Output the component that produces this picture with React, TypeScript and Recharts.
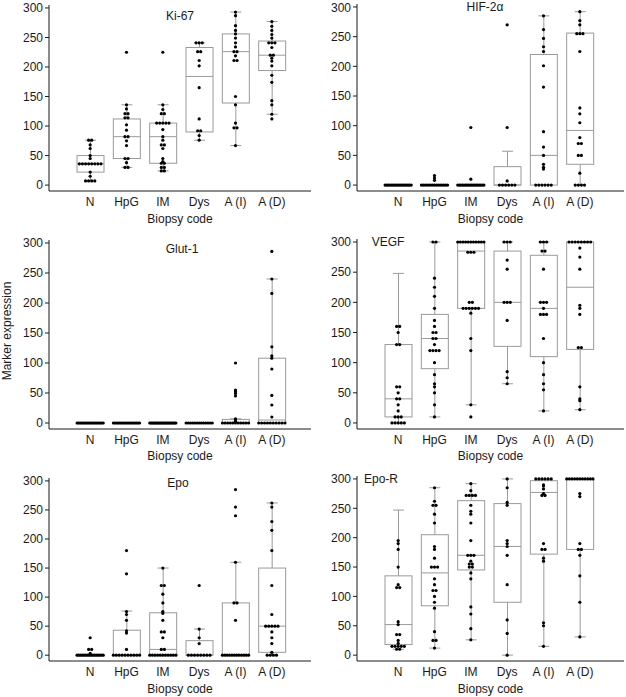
import { Bar, ComposedChart, Scatter, XAxis, YAxis } from "recharts";

const CATS = ["N", "HpG", "IM", "Dys", "A (I)", "A (D)"];
const Y_TICKS = [0, 50, 100, 150, 200, 250, 300];

// box stats per category: [low whisker, q1, median, q3, high whisker]
const ki67Box = [
  [7, 22, 36, 50, 76],
  [30, 45, 82, 112, 136],
  [24, 37, 82, 105, 136],
  [76, 90, 184, 233, 241],
  [67, 139, 226, 256, 293],
  [120, 194, 220, 244, 277],
];
const ki67Dots = [
  [76, 76, 68, 62, 50, 45, 36, 36, 36, 36, 36, 36, 36, 36, 22, 15, 7, 7, 7, 7],
  [225, 136, 129, 121, 121, 114, 114, 102, 93, 82, 82, 75, 67, 45, 45, 38, 30, 30],
  [225, 136, 128, 121, 121, 105, 105, 105, 105, 105, 94, 82, 76, 68, 68, 62, 45, 40, 37, 37, 30, 30, 24, 24],
  [241, 241, 241, 226, 226, 211, 202, 165, 112, 92, 92, 84, 76],
  [293, 287, 270, 262, 256, 249, 241, 234, 226, 226, 219, 211, 211, 150, 136, 105, 97, 97, 67],
  [277, 269, 262, 255, 249, 241, 241, 241, 233, 220, 220, 215, 210, 202, 186, 174, 143, 136, 120, 112],
];

const hifBox = [
  [0, 0, 0, 0, 0],
  [0, 0, 0, 0, 0],
  [0, 0, 0, 0, 0],
  [0, 0, 0, 31, 57],
  [0, 0, 50, 220, 285],
  [0, 35, 92, 256, 292],
];
const hifDots = [
  [0, 0, 0, 0, 0, 0, 0, 0, 0, 0, 0, 0, 0, 0, 0, 0, 0, 0],
  [16, 12, 8, 0, 0, 0, 0, 0, 0, 0, 0, 0, 0, 0, 0, 0, 0, 0],
  [97, 10, 0, 0, 0, 0, 0, 0, 0, 0, 0, 0, 0, 0, 0, 0, 0, 0, 0, 0],
  [270, 97, 7, 0, 0, 0, 0, 0, 0],
  [285, 262, 247, 233, 225, 201, 165, 90, 64, 50, 35, 30, 27, 0, 0, 0, 0, 0, 0],
  [292, 277, 270, 255, 255, 255, 225, 130, 120, 105, 80, 70, 70, 50, 50, 20, 0, 0, 0, 0],
];

const glutBox = [
  [0, 0, 0, 0, 0],
  [0, 0, 0, 0, 0],
  [0, 0, 0, 0, 0],
  [0, 0, 0, 0, 0],
  [0, 0, 1, 6, 7],
  [0, 0, 5, 108, 240],
];
const glutDots = [
  [0, 0, 0, 0, 0, 0, 0, 0, 0, 0, 0, 0, 0, 0, 0, 0, 0, 0, 0],
  [0, 0, 0, 0, 0, 0, 0, 0, 0, 0, 0, 0, 0, 0, 0, 0, 0, 0],
  [0, 0, 0, 0, 0, 0, 0, 0, 0, 0, 0, 0, 0, 0, 0, 0, 0, 0, 0, 0, 0, 0, 0, 0],
  [0, 0, 0, 0, 0, 0, 0, 0, 0, 0, 0, 0, 0],
  [100, 55, 52, 49, 45, 7, 5, 3, 0, 0, 0, 0, 0, 0, 0, 0, 0, 0, 0],
  [286, 240, 216, 127, 112, 108, 90, 46, 30, 10, 0, 0, 0, 0, 0, 0, 0, 0, 0, 0],
];

const vegfBox = [
  [0, 10, 40, 130, 248],
  [10, 90, 140, 180, 300],
  [30, 190, 285, 300, 300],
  [65, 127, 200, 285, 300],
  [20, 110, 190, 278, 300],
  [22, 122, 225, 300, 300],
];
const vegfDots = [
  [160, 160, 150, 130, 130, 60, 60, 50, 40, 40, 30, 20, 10, 10, 10, 0, 0, 0, 0, 0],
  [300, 300, 240, 225, 210, 190, 170, 160, 150, 150, 140, 140, 130, 120, 120, 120, 120, 100, 80, 65, 60, 50, 30, 10],
  [300, 300, 300, 300, 300, 300, 300, 300, 300, 300, 300, 283, 283, 283, 200, 200, 190, 190, 190, 190, 190, 190, 182, 140, 120, 30, 10],
  [300, 300, 300, 270, 255, 200, 200, 200, 170, 85, 75, 65],
  [300, 300, 300, 285, 285, 255, 200, 200, 200, 190, 180, 180, 180, 140, 100, 80, 65, 55, 20],
  [300, 300, 300, 300, 300, 300, 300, 300, 290, 275, 255, 195, 190, 180, 125, 125, 60, 40, 37, 22],
];

const epoBox = [
  [0, 0, 0, 0, 0],
  [0, 0, 0, 43, 76],
  [0, 0, 10, 73, 150],
  [0, 0, 0, 25, 45],
  [0, 0, 0, 90, 160],
  [0, 5, 50, 150, 262],
];
const epoDots = [
  [30, 10, 10, 3, 0, 0, 0, 0, 0, 0, 0, 0, 0, 0, 0, 0, 0, 0, 0, 0],
  [180, 140, 75, 70, 60, 42, 38, 10, 0, 0, 0, 0, 0, 0, 0, 0, 0, 0],
  [150, 120, 120, 105, 90, 75, 72, 60, 40, 40, 30, 10, 10, 0, 0, 0, 0, 0, 0, 0, 0, 0, 0, 0],
  [120, 45, 30, 20, 0, 0, 0, 0, 0, 0, 0, 0],
  [285, 255, 240, 160, 90, 90, 60, 0, 0, 0, 0, 0, 0, 0, 0, 0, 0, 0, 0],
  [262, 255, 230, 215, 180, 120, 70, 50, 50, 50, 50, 50, 40, 30, 20, 5, 0, 0, 0, 0],
];

const epoRBox = [
  [10, 18, 52, 135, 247],
  [12, 84, 140, 205, 285],
  [26, 145, 170, 263, 292],
  [0, 90, 185, 258, 300],
  [15, 172, 277, 297, 300],
  [31, 180, 300, 300, 300],
];
const epoRDots = [
  [195, 190, 180, 150, 120, 115, 115, 57, 52, 35, 35, 25, 20, 15, 15, 15, 15, 15, 10, 10],
  [285, 262, 255, 255, 240, 225, 185, 180, 165, 150, 150, 150, 130, 120, 110, 110, 100, 90, 80, 40, 25, 25, 12],
  [292, 280, 272, 272, 272, 272, 255, 245, 240, 225, 195, 170, 170, 170, 160, 155, 155, 150, 150, 140, 130, 82, 70, 45, 26],
  [300, 285, 260, 255, 195, 190, 185, 170, 120, 60, 37, 0],
  [300, 300, 300, 300, 300, 300, 290, 288, 283, 275, 272, 272, 190, 180, 180, 165, 160, 55, 50, 15],
  [300, 300, 300, 300, 300, 300, 300, 300, 300, 300, 300, 275, 270, 190, 180, 180, 170, 135, 90, 31],
];

const FONT = "'Liberation Sans', Arial, sans-serif";
const INK = "#1a1a1a";
const BOX = "#9a9a9a";
const DOT_GAP = 0.085; // in category units
const MAX_SPREAD = 0.72;
const RIGHT = 2;

// spread tied values sideways, like a dot strip
function swarm(groups: number[][]) {
  const pts: { x: number; y: number }[] = [];
  groups.forEach((vals, i) => {
    const counts = new Map<number, number>();
    vals.forEach((v) => counts.set(v, (counts.get(v) || 0) + 1));
    counts.forEach((n, v) => {
      const gap = n > 1 ? Math.min(DOT_GAP, MAX_SPREAD / (n - 1)) : 0;
      for (let k = 0; k < n; k++) pts.push({ x: i + (k - (n - 1) / 2) * gap, y: v });
    });
  });
  return pts;
}

function BoxShape(props: any) {
  const { x, y, width, height, payload } = props;
  const [lo, q1, med, q3, hi] = payload.stats;
  const span = hi - lo;
  const py = (v: number) => (span === 0 ? y : y + ((hi - v) / span) * height);
  const cx = x + width / 2;
  const cap = 5.5;
  return (
    <g stroke={BOX} strokeWidth={1} fill="none">
      {hi > q3 && <line x1={cx} x2={cx} y1={py(hi)} y2={py(q3)} />}
      {hi > q3 && <line x1={cx - cap} x2={cx + cap} y1={py(hi)} y2={py(hi)} />}
      {lo < q1 && <line x1={cx} x2={cx} y1={py(q1)} y2={py(lo)} />}
      {lo < q1 && <line x1={cx - cap} x2={cx + cap} y1={py(lo)} y2={py(lo)} />}
      <rect x={x} y={py(q3)} width={width} height={py(q1) - py(q3)} />
      <line x1={x} x2={x + width} y1={py(med)} y2={py(med)} />
    </g>
  );
}

const Dot = (p: any) => <circle cx={p.cx} cy={p.cy} r={1.6} fill="#000" />;

function Panel(props: {
  box: number[][];
  dots: number[][];
  left: number;
  top: number;
  axisX: number;
  topPad: number;
  axisY: number;
  labelOffset: number;
}) {
  const { box, dots, left, top, axisX, topPad, axisY, labelOffset } = props;
  const rows = CATS.map((name, i) => ({ name, range: [box[i][0], box[i][4]], stats: box[i] }));
  const pts = swarm(dots);
  const plotW = 313 - RIGHT - axisX;
  const pad = { left: 23, right: plotW - 23 - 218 };
  return (
    <div style={{ position: "absolute", left, top }}>
      <ComposedChart
        width={313}
        height={axisY + 36}
        data={rows}
        margin={{ top: topPad, right: RIGHT, bottom: 0, left: 0 }}
      >
        <XAxis
          xAxisId="cat"
          dataKey="name"
          type="category"
          interval={0}
          padding={pad}
          height={36}
          tickLine={false}
          tickSize={4}
          axisLine={{ stroke: INK }}
          tick={{ fill: INK, fontSize: 12, fontFamily: FONT }}
          label={{ value: "Biopsy code", position: "insideBottom", offset: labelOffset, fill: INK, fontSize: 12, fontFamily: FONT }}
        />
        <XAxis xAxisId="num" dataKey="x" type="number" domain={[-0.5, 5.5]} allowDataOverflow padding={pad} hide />
        <YAxis
          type="number"
          domain={[-10, 305]}
          allowDataOverflow
          ticks={Y_TICKS}
          width={axisX}
          tickSize={4}
          tickMargin={2}
          axisLine={{ stroke: INK }}
          tickLine={{ stroke: INK }}
          tick={{ fill: INK, fontSize: 12, fontFamily: FONT }}
        />
        <Bar xAxisId="cat" dataKey="range" barSize={27} shape={BoxShape} isAnimationActive={false} />
        <Scatter xAxisId="num" data={pts} dataKey="y" shape={Dot} isAnimationActive={false} />
      </ComposedChart>
    </div>
  );
}

function Title({ text, x, y }: { text: string; x: number; y: number }) {
  return (
    <div
      style={{
        position: "absolute",
        left: x,
        top: y,
        transform: "translate(-50%, -50%)",
        fontFamily: FONT,
        fontSize: 12,
        lineHeight: 1,
        color: INK,
        whiteSpace: "nowrap",
      }}
    >
      {text}
    </div>
  );
}

export default function App() {
  return (
    <div style={{ position: "absolute", left: 0, top: 0, width: 626, height: 697, background: "#fff" }}>
      <Panel box={ki67Box} dots={ki67Dots} left={0} top={0} axisX={49} topPad={5} axisY={191} labelOffset={4} />
      <Panel box={hifBox} dots={hifDots} left={313} top={0} axisX={44} topPad={4} axisY={191} labelOffset={4} />
      <Panel box={glutBox} dots={glutDots} left={0} top={232} axisX={49} topPad={8} axisY={197} labelOffset={5} />
      <Panel box={vegfBox} dots={vegfDots} left={313} top={232} axisX={44} topPad={7} axisY={197} labelOffset={5} />
      <Panel box={epoBox} dots={epoDots} left={0} top={464} axisX={49} topPad={14} axisY={197} labelOffset={4} />
      <Panel box={epoRBox} dots={epoRDots} left={313} top={464} axisX={44} topPad={12} axisY={197} labelOffset={4} />
      <Title text="Ki-67" x={180} y={16} />
      <Title text="HIF-2α" x={485} y={7} />
      <Title text="Glut-1" x={182} y={249} />
      <Title text="VEGF" x={388} y={242} />
      <Title text="Epo" x={178} y={483} />
      <Title text="Epo-R" x={381} y={479} />
      <div
        style={{
          position: "absolute",
          left: 7,
          top: 331,
          transform: "translate(-50%, -50%) rotate(-90deg)",
          fontFamily: FONT,
          fontSize: 12,
          lineHeight: 1,
          color: INK,
          whiteSpace: "nowrap",
        }}
      >
        Marker expression
      </div>
    </div>
  );
}
